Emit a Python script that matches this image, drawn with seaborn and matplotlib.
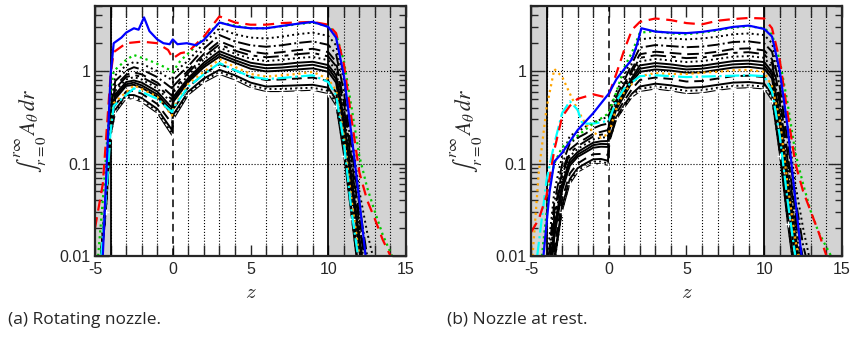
import matplotlib
matplotlib.use('Agg')
import matplotlib.pyplot as plt
import matplotlib.ticker as mticker
import seaborn as sns

# ---------------- data ----------------
# (a) rotating nozzle -- coloured curves
a_blue_z = [-4.5, -4.2, -4.0, -3.8, -3.3, -3.0, -2.5, -2.2, -1.85, -1.5, -1.0, -0.6, -0.2, 0.0, 0.3, 0.9, 1.5, 2.0,
            3.0, 4.0, 5.0, 6.0, 7.0, 8.0, 9.0, 10.0, 10.5, 11.0, 11.5, 12.0, 12.4]
a_blue = [0.01, 0.15, 0.9, 2.0, 2.3, 2.6, 2.9, 2.8, 3.8, 2.7, 2.2, 2.0, 1.95, 2.2, 1.95, 2.0, 1.9, 2.17,
          3.35, 3.03, 2.9, 2.9, 3.07, 3.24, 3.4, 3.0, 2.3, 0.9, 0.2, 0.04, 0.01]
a_red_z = [-5.0, -4.5, -4.2, -4.0, -3.8, -3.0, -2.0, -1.0, -0.3, 0.0, 0.5, 1.0, 2.0, 3.0, 4.0, 5.0, 6.0, 7.0,
           8.0, 9.0, 10.0, 10.5, 11.0, 11.5, 12.0, 12.5, 13.0, 13.5, 14.0]
a_red = [0.02, 0.06, 0.3, 0.9, 1.6, 2.0, 2.08, 2.0, 1.69, 1.37, 1.56, 1.62, 2.36, 3.9, 3.35, 3.17, 3.17, 3.3,
         3.35, 3.4, 3.17, 2.57, 1.2, 0.3, 0.08, 0.04, 0.025, 0.015, 0.01]
a_green_z = [-4.8, -4.5, -4.2, -4.0, -3.8, -3.0, -2.5, -1.5, -0.5, 0.0, 0.5, 1.0, 2.0, 3.0, 4.0, 5.0, 6.0, 7.0,
             8.0, 9.0, 10.0, 10.5, 11.0, 11.5, 12.0, 12.5, 13.0, 13.5, 14.1]
a_green = [0.01, 0.04, 0.2, 0.6, 1.0, 1.32, 1.49, 1.3, 1.1, 0.98, 1.3, 1.55, 2.26, 3.35, 3.1, 2.9, 2.9, 3.05,
           3.2, 3.35, 3.05, 2.5, 1.3, 0.4, 0.12, 0.055, 0.03, 0.017, 0.01]
a_oc_z = [-4.6, -4.2, -4.0, -3.8, -2.5, -1.0, -0.05, 0.05, 1.0, 2.0, 3.0, 4.0, 5.0, 6.0, 7.0, 8.0, 9.0, 10.0,
          10.5, 11.0, 11.5, 12.0]
a_orange = [0.01, 0.08, 0.25, 0.45, 0.70, 0.53, 0.33, 0.41, 0.73, 0.98, 1.34, 1.11, 0.93, 0.87, 0.9, 0.93, 0.98,
            0.82, 0.62, 0.2, 0.04, 0.01]
a_cyan = [0.01, 0.07, 0.22, 0.42, 0.65, 0.5, 0.36, 0.4, 0.68, 0.92, 1.22, 1.02, 0.87, 0.82, 0.84, 0.87, 0.9,
          0.76, 0.55, 0.17, 0.03, 0.008]

# (a) black curves, top to bottom
a_black_z = [-4.7, -4.3, -4.0, -3.7, -3.0, -2.5, -2.0, -1.0, -0.05, 0.05, 1.0, 2.0, 3.0, 4.0, 5.0, 6.0, 7.0, 8.0,
             9.0, 10.0, 10.5, 11.0, 11.5, 12.0, 12.5, 13.0, 14.0]
a_black = [
    [0.007, 0.05, 0.4, 0.9, 1.15, 1.25, 1.2, 1.0, 0.8, 0.95, 1.3, 2.0, 2.9, 2.5, 2.3, 2.25, 2.35, 2.5, 2.6, 2.4,
     1.9, 0.8, 0.2, 0.05, 0.018, 0.008, 0.001],
    [0.007, 0.046, 0.36, 0.78, 1.01, 1.1, 1.04, 0.86, 0.65, 0.8, 1.13, 1.74, 2.45, 2.09, 1.9, 1.83, 1.9, 2.01,
     2.09, 1.92, 1.53, 0.6, 0.145, 0.035, 0.01, 0.004, 0.001],
    [0.007, 0.043, 0.33, 0.69, 0.91, 0.97, 0.92, 0.75, 0.54, 0.69, 1.02, 1.53, 2.1, 1.8, 1.62, 1.54, 1.6, 1.68,
     1.74, 1.6, 1.26, 0.47, 0.11, 0.026, 0.007, 0.003, 0.001],
    [0.007, 0.042, 0.31, 0.65, 0.86, 0.91, 0.86, 0.7, 0.49, 0.63, 0.96, 1.43, 1.94, 1.66, 1.48, 1.41, 1.45, 1.52,
     1.57, 1.44, 1.13, 0.41, 0.096, 0.022, 0.006, 0.003, 0.001],
    [0.007, 0.04, 0.3, 0.61, 0.81, 0.86, 0.81, 0.65, 0.45, 0.59, 0.9, 1.34, 1.79, 1.54, 1.36, 1.28, 1.32, 1.38,
     1.42, 1.31, 1.01, 0.36, 0.083, 0.019, 0.005, 0.0025, 0.001],
    [0.007, 0.039, 0.28, 0.56, 0.76, 0.79, 0.75, 0.6, 0.4, 0.53, 0.84, 1.23, 1.64, 1.41, 1.23, 1.16, 1.18, 1.23,
     1.26, 1.16, 0.9, 0.31, 0.07, 0.016, 0.004, 0.002, 0.001],
    [0.007, 0.038, 0.27, 0.53, 0.72, 0.75, 0.7, 0.56, 0.37, 0.5, 0.8, 1.16, 1.53, 1.31, 1.14, 1.07, 1.09, 1.13,
     1.17, 1.07, 0.82, 0.28, 0.062, 0.014, 0.004, 0.002, 0.001],
    [0.006, 0.036, 0.26, 0.5, 0.69, 0.71, 0.66, 0.53, 0.34, 0.47, 0.76, 1.1, 1.43, 1.23, 1.06, 0.99, 1.01, 1.04,
     1.07, 0.98, 0.75, 0.25, 0.055, 0.012, 0.003, 0.0015, 0.001],
    [0.006, 0.034, 0.23, 0.43, 0.6, 0.61, 0.57, 0.44, 0.27, 0.39, 0.67, 0.93, 1.19, 1.02, 0.86, 0.8, 0.81, 0.83,
     0.85, 0.78, 0.59, 0.18, 0.04, 0.008, 0.002, 0.001, 0.001],
    [0.006, 0.032, 0.21, 0.38, 0.55, 0.55, 0.51, 0.39, 0.23, 0.34, 0.6, 0.83, 1.03, 0.9, 0.75, 0.68, 0.69, 0.7,
     0.71, 0.66, 0.49, 0.15, 0.031, 0.006, 0.0012, 0.001, 0.001],
    [0.006, 0.031, 0.2, 0.36, 0.52, 0.52, 0.48, 0.37, 0.21, 0.32, 0.57, 0.79, 0.97, 0.85, 0.7, 0.64, 0.64, 0.65,
     0.66, 0.61, 0.45, 0.135, 0.028, 0.0055, 0.001, 0.001, 0.001],
    [0.006, 0.03, 0.2, 0.35, 0.5, 0.5, 0.46, 0.35, 0.2, 0.3, 0.55, 0.75, 0.92, 0.8, 0.66, 0.6, 0.6, 0.61, 0.62,
     0.57, 0.42, 0.12, 0.025, 0.005, 0.001, 0.001, 0.001],
]

# (b) nozzle at rest -- coloured curves
b_blue_z = [-4.2, -3.8, -3.5, -3.0, -2.0, -1.0, 0.0, 0.5, 1.0, 1.5, 1.8, 2.1, 3.0, 4.0, 5.0, 6.0, 7.0, 8.0, 9.0,
            10.0, 10.5, 11.0, 11.5, 12.0, 12.4]
b_blue = [0.01, 0.05, 0.105, 0.13, 0.23, 0.35, 0.57, 0.82, 1.05, 1.35, 1.9, 2.9, 2.67, 2.6, 2.57, 2.65, 2.8,
          3.0, 3.1, 2.85, 2.36, 1.0, 0.25, 0.04, 0.01]
b_red_z = [-5.0, -4.5, -4.0, -3.5, -3.0, -2.5, -2.0, -1.0, -0.2, 0.0, 0.5, 1.0, 1.5, 2.0, 3.0, 4.0, 5.0, 6.0,
           7.0, 8.0, 9.0, 10.0, 10.5, 11.0, 11.5, 12.0, 12.5, 13.0, 13.5, 14.0]
b_red = [0.018, 0.025, 0.045, 0.14, 0.32, 0.42, 0.5, 0.56, 0.52, 0.55, 0.95, 1.7, 2.8, 3.4, 3.7, 3.55, 3.3,
         3.2, 3.5, 3.65, 3.75, 3.7, 2.9, 1.3, 0.35, 0.1, 0.05, 0.03, 0.018, 0.01]
b_green_z = [-4.3, -3.8, -3.5, -3.0, -2.0, -1.0, 0.0, 0.5, 1.0, 1.5, 2.0, 3.0, 4.0, 5.0, 6.0, 7.0, 8.0, 9.0,
             10.0, 10.5, 11.0, 11.5, 12.0, 12.5, 13.0, 13.5, 14.3]
b_green = [0.01, 0.06, 0.1, 0.15, 0.2, 0.27, 0.35, 0.6, 1.1, 1.6, 2.6, 2.7, 2.55, 2.5, 2.6, 2.75, 2.95, 3.05,
           2.9, 2.5, 1.3, 0.45, 0.13, 0.06, 0.03, 0.018, 0.01]
b_orange_z = [-4.9, -4.5, -4.0, -3.5, -3.0, -2.5, -2.0, -1.5, -1.0, -0.5, 0.0, 0.5, 1.0, 2.0, 3.0, 4.0, 5.0,
              6.0, 7.0, 8.0, 9.0, 10.0, 10.5, 11.0, 11.5, 12.0, 12.2]
b_orange = [0.01, 0.08, 0.4, 1.05, 0.87, 0.57, 0.38, 0.27, 0.22, 0.19, 0.21, 0.4, 0.6, 0.88, 0.95, 0.93, 0.93,
            0.96, 0.98, 1.02, 1.03, 0.98, 0.68, 0.3, 0.06, 0.015, 0.01]
b_cyan_z = [-4.6, -4.0, -3.5, -3.0, -2.5, -2.0, -1.7, -1.0, 0.0, 0.5, 1.0, 2.0, 3.0, 5.0, 7.0, 9.0, 10.0, 10.5,
            11.0, 11.5, 12.0]
b_cyan = [0.01, 0.066, 0.164, 0.35, 0.47, 0.38, 0.27, 0.27, 0.29, 0.48, 0.65, 0.88, 0.9, 0.86, 0.88, 0.9, 0.88,
          0.6, 0.2, 0.04, 0.01]

# (b) black curves, top to bottom
b_black_z = [-4.0, -3.5, -3.0, -2.5, -2.0, -1.5, -1.0, -0.5, -0.05, 0.05, 0.5, 1.0, 1.5, 2.0, 3.0, 4.0, 5.0,
             6.0, 7.0, 8.0, 9.0, 10.0, 10.5, 11.0, 11.5, 12.0, 12.5, 13.0, 14.0]
b_black = [
    [0.008, 0.05, 0.12, 0.2, 0.22, 0.25, 0.28, 0.3, 0.32, 0.4, 0.6, 0.9, 1.4, 2.2, 2.3, 2.25, 2.2, 2.25, 2.35,
     2.5, 2.55, 2.45, 2.0, 0.9, 0.25, 0.06, 0.02, 0.008, 0.001],
    [0.006, 0.038, 0.097, 0.166, 0.19, 0.21, 0.24, 0.26, 0.27, 0.35, 0.54, 0.79, 1.21, 1.79, 1.91, 1.86, 1.81,
     1.84, 1.93, 2.06, 2.09, 1.99, 1.62, 0.67, 0.175, 0.042, 0.013, 0.006, 0.001],
    [0.0045, 0.03, 0.081, 0.142, 0.166, 0.186, 0.21, 0.22, 0.23, 0.31, 0.49, 0.72, 1.06, 1.52, 1.62, 1.57, 1.52,
     1.54, 1.62, 1.73, 1.76, 1.67, 1.34, 0.52, 0.128, 0.03, 0.009, 0.0045, 0.001],
    [0.004, 0.026, 0.074, 0.13, 0.154, 0.174, 0.196, 0.205, 0.21, 0.3, 0.47, 0.68, 0.99, 1.39, 1.48, 1.43, 1.38,
     1.4, 1.48, 1.57, 1.6, 1.52, 1.21, 0.45, 0.108, 0.025, 0.007, 0.004, 0.001],
    [0.0033, 0.023, 0.067, 0.12, 0.144, 0.162, 0.182, 0.19, 0.193, 0.28, 0.45, 0.64, 0.93, 1.27, 1.35, 1.3, 1.25,
     1.28, 1.35, 1.43, 1.45, 1.39, 1.1, 0.39, 0.09, 0.021, 0.006, 0.003, 0.001],
    [0.0028, 0.02, 0.06, 0.109, 0.133, 0.15, 0.168, 0.174, 0.175, 0.26, 0.42, 0.6, 0.85, 1.15, 1.22, 1.18, 1.12,
     1.14, 1.21, 1.28, 1.3, 1.25, 0.98, 0.33, 0.075, 0.017, 0.0045, 0.0028, 0.001],
    [0.0025, 0.018, 0.055, 0.101, 0.125, 0.14, 0.158, 0.163, 0.162, 0.25, 0.41, 0.57, 0.81, 1.06, 1.13, 1.09,
     1.04, 1.06, 1.12, 1.18, 1.2, 1.15, 0.9, 0.29, 0.064, 0.015, 0.0037, 0.0025, 0.001],
    [0.0022, 0.016, 0.051, 0.095, 0.118, 0.132, 0.148, 0.152, 0.151, 0.235, 0.39, 0.54, 0.76, 0.98, 1.04, 1.01,
     0.96, 0.97, 1.03, 1.09, 1.11, 1.06, 0.83, 0.26, 0.056, 0.013, 0.0031, 0.002, 0.001],
    [0.0016, 0.012, 0.041, 0.078, 0.1, 0.113, 0.126, 0.127, 0.124, 0.206, 0.35, 0.48, 0.64, 0.8, 0.85, 0.82,
     0.77, 0.78, 0.83, 0.88, 0.89, 0.86, 0.66, 0.19, 0.038, 0.009, 0.002, 0.0015, 0.001],
    [0.0012, 0.0096, 0.0345, 0.068, 0.089, 0.1, 0.111, 0.112, 0.107, 0.185, 0.32, 0.43, 0.57, 0.68, 0.73, 0.7,
     0.66, 0.67, 0.71, 0.75, 0.76, 0.73, 0.55, 0.146, 0.028, 0.0064, 0.0013, 0.001, 0.001],
    [0.001, 0.0085, 0.032, 0.064, 0.084, 0.095, 0.105, 0.105, 0.1, 0.177, 0.31, 0.41, 0.545, 0.64, 0.68, 0.65,
     0.61, 0.62, 0.66, 0.69, 0.7, 0.68, 0.51, 0.132, 0.025, 0.0057, 0.0011, 0.001, 0.001],
    [0.001, 0.008, 0.03, 0.06, 0.08, 0.09, 0.1, 0.1, 0.095, 0.17, 0.3, 0.4, 0.52, 0.6, 0.64, 0.61, 0.57, 0.58,
     0.62, 0.65, 0.66, 0.64, 0.48, 0.12, 0.022, 0.005, 0.001, 0.001, 0.001],
]

captions = ['(a) Rotating nozzle.', '(b) Nozzle at rest.']
ylabel = r'$\int_{r=0}^{r\infty}\, A_\theta\, dr$'

# ---------------- styling ----------------
sns.set_style('ticks')
plt.rcParams['font.family'] = ['Liberation Sans', 'DejaVu Sans']
plt.rcParams['mathtext.fontset'] = 'cm'

black_styles = [':', '-.', (0, (6, 3)), (0, (8, 3, 2, 3)), ':', '-', '-', '-', (0, (5, 3)), '-', ':', '-']
black_markers = [None] * 11 + ['+']

fig = plt.figure(figsize=(8.53, 3.37), dpi=100)
ax1 = fig.add_axes([0.1114, 0.2404, 0.3646, 0.7418])
ax2 = fig.add_axes([0.6225, 0.2404, 0.3646, 0.7418])


def line(ax, z, v, color, ls='-', lw=1.4, marker=None):
    sns.lineplot(x=z, y=v, ax=ax, color=color, linestyle=ls, lw=lw, marker=marker, markersize=5,
                 markeredgewidth=1.0, estimator=None, sort=False, legend=False)


def frame(ax):
    ax.set_yscale('log')
    ax.axvspan(-5, -4, color='#d3d3d3', zorder=0, lw=0)
    ax.axvspan(10, 15, color='#d3d3d3', zorder=0, lw=0)
    ax.axvline(-4, color='k', lw=1.3, zorder=1)
    ax.axvline(10, color='k', lw=1.3, zorder=1)
    ax.axvline(0, color='k', lw=1.1, ls=(0, (5, 3)), zorder=1)
    ax.set_xlim(-5, 15)
    ax.set_ylim(0.01, 5.05)
    ax.set_xticks([-5, 0, 5, 10, 15])
    ax.set_xticklabels(['-5', '0', '5', '10', '15'])
    ax.xaxis.set_minor_locator(mticker.MultipleLocator(1))
    ax.set_yticks([0.01, 0.1, 1])
    ax.set_yticklabels(['0.01', '0.1', '1'])
    ax.yaxis.set_minor_locator(mticker.LogLocator(base=10, subs=range(2, 10)))
    ax.yaxis.set_minor_formatter(mticker.NullFormatter())
    ax.grid(which='minor', axis='x', color='k', ls=':', lw=0.8)
    ax.grid(which='major', axis='y', color='k', ls=':', lw=0.8)
    ax.tick_params(which='both', direction='in', top=True, right=True, labelsize=11.5, width=1.0)
    ax.tick_params(axis='x', which='both', length=8, pad=4)
    ax.tick_params(axis='y', which='major', length=10, pad=3)
    ax.tick_params(axis='y', which='minor', length=5)
    for s in ax.spines.values():
        s.set_linewidth(1.6)
        s.set_zorder(5)
    ax.set_xlabel('$z$', fontsize=15)
    ax.xaxis.set_label_coords(0.5, -0.11)
    ax.set_ylabel(ylabel, fontsize=15.5, math_fontfamily='stix')
    ax.yaxis.set_label_coords(-0.15, 0.5)


for ax, bz, blacks, cols in [
    (ax1, a_black_z, a_black,
     [(a_oc_z, a_orange, 'orange', ':'), (a_oc_z, a_cyan, 'cyan', '-.'), (a_green_z, a_green, '#00cc00', ':'),
      (a_red_z, a_red, 'red', (0, (5, 3))), (a_blue_z, a_blue, 'blue', '-')]),
    (ax2, b_black_z, b_black,
     [(b_orange_z, b_orange, 'orange', ':'), (b_cyan_z, b_cyan, 'cyan', '-.'), (b_green_z, b_green, '#00cc00', ':'),
      (b_red_z, b_red, 'red', (0, (5, 3))), (b_blue_z, b_blue, 'blue', '-')]),
]:
    frame(ax)
    for v, ls, mk in zip(blacks, black_styles, black_markers):
        line(ax, bz, v, 'black', ls, lw=1.4 if mk is None else 0.8, marker=mk)
    for z, v, c, ls in cols:
        line(ax, z, v, c, ls, lw=1.6)
    ax.set_xlim(-5, 15)
    ax.set_ylim(0.01, 5.05)

fig.text(8 / 853, 1 - 320 / 337, captions[0], fontsize=12.5, va='center', family=['Open Sans', 'DejaVu Sans'])
fig.text(447 / 853, 1 - 320 / 337, captions[1], fontsize=12.5, va='center', family=['Open Sans', 'DejaVu Sans'])

fig.savefig('out.png', dpi=100)
